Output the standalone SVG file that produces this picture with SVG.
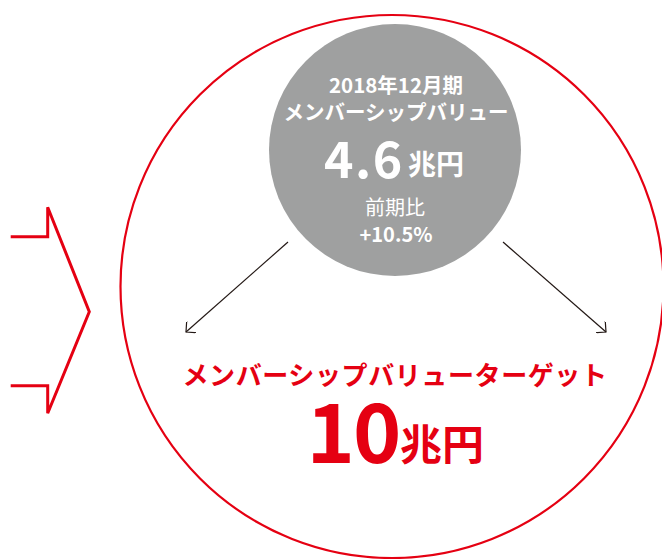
<svg xmlns="http://www.w3.org/2000/svg" width="662" height="559" viewBox="0 0 662 559">
  <style>
    .jp { font-family: "Noto Sans CJK JP", "Noto Sans", sans-serif; }
    .w { fill: #ffffff; }
    .r { fill: #e50012; }
    .b { font-weight: 700; }
    .conn { stroke: #231815; stroke-width: 1.2; fill: none; }
  </style>
  <defs>
    <marker id="open" viewBox="0 0 14 14" refX="12" refY="7" markerWidth="14" markerHeight="14" markerUnits="userSpaceOnUse" orient="auto">
      <path d="M3,-2 L12,7 L3,16" fill="none" stroke="#231815" stroke-width="1.2"/>
    </marker>
  </defs>
  <rect width="662" height="559" fill="#ffffff"/>

  <g id="chevron">
    <polyline points="10.7,236.7 47.7,236.7 47.7,207.3 89.3,311.7 47.7,413.3 47.7,385.7 10.7,385.7" fill="none" stroke="#e50012" stroke-width="3" stroke-linejoin="miter"/>
  </g>

  <g id="outer-circle">
    <circle cx="392" cy="286.5" r="271.5" fill="none" stroke="#e50012" stroke-width="2.2"/>
  </g>

  <g id="current-value">
    <circle cx="395" cy="150" r="126" fill="#9fa0a0"/>
    <text class="jp w b" x="396" y="93" font-size="20.5" text-anchor="middle">2018年12月期</text>
    <text class="jp w b" x="396" y="120" font-size="20.5" text-anchor="middle">メンバーシップバリュー</text>
    <text class="jp w b" x="324" y="178" font-size="50" letter-spacing="1.5">4.6</text>
    <text class="jp w b" x="436" y="175" font-size="28" text-anchor="middle">兆円</text>
    <text class="jp w" x="395" y="215" font-size="20" text-anchor="middle">前期比</text>
    <text class="jp w b" x="396" y="242" font-size="20" text-anchor="middle">+10.5%</text>
  </g>

  <g id="connectors">
    <line class="conn" x1="288" y1="242" x2="186" y2="332" marker-end="url(#open)"/>
    <line class="conn" x1="503" y1="242" x2="606" y2="332" marker-end="url(#open)"/>
  </g>

  <g id="target">
    <text class="jp r b" x="395" y="385" font-size="26" text-anchor="middle" letter-spacing="0.6">メンバーシップバリューターゲット</text>
    <text class="jp r b" x="353" y="463" font-size="82" text-anchor="middle" letter-spacing="-2">10</text>
    <text class="jp r b" x="442" y="460" font-size="42" text-anchor="middle">兆円</text>
  </g>
</svg>
